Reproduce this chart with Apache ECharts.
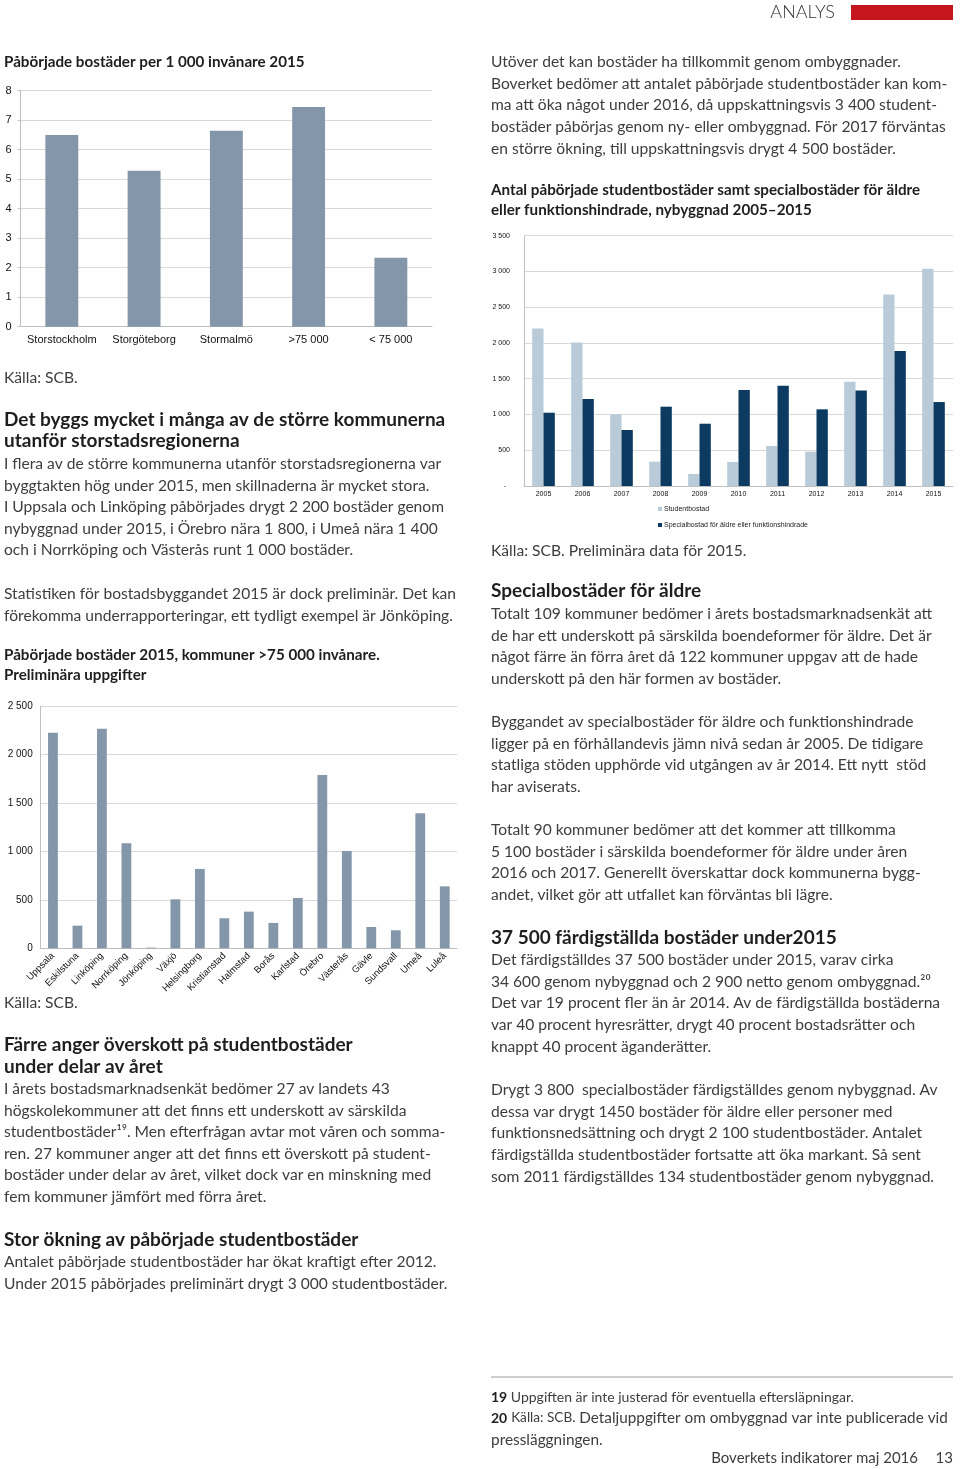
<!DOCTYPE html>
<html>
<head>
<meta charset="utf-8">
<script src="https://cdn.jsdelivr.net/npm/echarts@6/dist/echarts.min.js"></script>
<style>
html,body{margin:0;padding:0;background:#fff;}
#page{width:960px;height:1469px;}
</style>
</head>
<body>
<div id="page"></div>
<script>
// ---------- DATA ----------
const c1Categories = ['Storstockholm', 'Storgöteborg', 'Stormalmö', '>75 000', '< 75 000'];
const c1Values = [6.5, 5.29, 6.64, 7.45, 2.34];

const c2Years = ['2005', '2006', '2007', '2008', '2009', '2010', '2011', '2012', '2013', '2014', '2015'];
const c2Student = [2204, 2008, 1002, 340, 168, 336, 559, 480, 1459, 2679, 3038];
const c2Special = [1025, 1216, 783, 1109, 871, 1342, 1403, 1072, 1337, 1887, 1174];
const c2SeriesNames = ['Studentbostad', 'Specialbostad för äldre eller funktionshindrade'];

const c3Cities = ['Uppsala', 'Eskilstuna', 'Linköping', 'Norrköping', 'Jönköping', 'Växjö', 'Helsingborg',
  'Kristianstad', 'Halmstad', 'Borås', 'Karlstad', 'Örebro', 'Västerås', 'Gävle', 'Sundsvall', 'Umeå', 'Luleå'];
const c3Values = [2228, 234, 2269, 1085, 7, 506, 820, 310, 379, 262, 520, 1791, 1006, 220, 186, 1395, 640];

// ---------- TEXT ----------
const BODY = 'Lato, "Open Sans", sans-serif';
const AX = '"Liberation Sans", Arial, sans-serif';
const blocks = [
  // left column
  {x: 4, y: 62, lh: 20, kind: 'ctitle', lines: ['Påbörjade bostäder per 1 000 invånare 2015']},
  {x: 4, y: 378, lh: 21.6, kind: 'body', lines: ['Källa: SCB.']},
  {x: 4, y: 420, lh: 21, kind: 'head', lines: ['Det byggs mycket i många av de större kommunerna', 'utanför storstadsregionerna']},
  {x: 4, y: 464, lh: 21.6, kind: 'body', lines: [
    'I flera av de större kommunerna utanför storstadsregionerna var',
    'byggtakten hög under 2015, men skillnaderna är mycket stora.',
    'I Uppsala och Linköping påbörjades drygt 2 200 bostäder genom',
    'nybyggnad under 2015, i Örebro nära 1 800, i Umeå nära 1 400',
    'och i Norrköping och Västerås runt 1 000 bostäder.']},
  {x: 4, y: 594, lh: 21.6, kind: 'body', lines: [
    'Statistiken för bostadsbyggandet 2015 är dock preliminär. Det kan',
    'förekomma underrapporteringar, ett tydligt exempel är Jönköping.']},
  {x: 4, y: 655, lh: 20, kind: 'ctitle', lines: ['Påbörjade bostäder 2015, kommuner >75 000 invånare.', 'Preliminära uppgifter']},
  {x: 4, y: 1003, lh: 21.6, kind: 'body', lines: ['Källa: SCB.']},
  {x: 4, y: 1045, lh: 21.6, kind: 'head', lines: ['Färre anger överskott på studentbostäder', 'under delar av året']},
  {x: 4, y: 1089, lh: 21.6, kind: 'body', lines: [
    'I årets bostadsmarknadsenkät bedömer 27 av landets 43',
    'högskolekommuner att det finns ett underskott av särskilda',
    'studentbostäder¹⁹. Men efterfrågan avtar mot våren och somma-',
    'ren. 27 kommuner anger att det finns ett överskott på student-',
    'bostäder under delar av året, vilket dock var en minskning med',
    'fem kommuner jämfört med förra året.']},
  {x: 4, y: 1240, lh: 21.6, kind: 'head', lines: ['Stor ökning av påbörjade studentbostäder']},
  {x: 4, y: 1262, lh: 21.6, kind: 'body', lines: [
    'Antalet påbörjade studentbostäder har ökat kraftigt efter 2012.',
    'Under 2015 påbörjades preliminärt drygt 3 000 studentbostäder.']},
  // right column
  {x: 491, y: 62, lh: 21.7, kind: 'body', lines: [
    'Utöver det kan bostäder ha tillkommit genom ombyggnader.',
    'Boverket bedömer att antalet påbörjade studentbostäder kan kom-',
    'ma att öka något under 2016, då uppskattningsvis 3 400 student-',
    'bostäder påbörjas genom ny- eller ombyggnad. För 2017 förväntas',
    'en större ökning, till uppskattningsvis drygt 4 500 bostäder.']},
  {x: 491, y: 190, lh: 20, kind: 'ctitle', lines: ['Antal påbörjade studentbostäder samt specialbostäder för äldre', 'eller funktionshindrade, nybyggnad 2005–2015']},
  {x: 491, y: 551, lh: 21.6, kind: 'body', lines: ['Källa: SCB. Preliminära data för 2015.']},
  {x: 491, y: 591, lh: 21.6, kind: 'head', lines: ['Specialbostäder för äldre']},
  {x: 491, y: 614, lh: 21.7, kind: 'body', lines: [
    'Totalt 109 kommuner bedömer i årets bostadsmarknadsenkät att',
    'de har ett underskott på särskilda boendeformer för äldre. Det är',
    'något färre än förra året då 122 kommuner uppgav att de hade',
    'underskott på den här formen av bostäder.']},
  {x: 491, y: 722, lh: 21.7, kind: 'body', lines: [
    'Byggandet av specialbostäder för äldre och funktionshindrade',
    'ligger på en förhållandevis jämn nivå sedan år 2005. De tidigare',
    'statliga stöden upphörde vid utgången av år 2014. Ett nytt  stöd',
    'har aviserats.']},
  {x: 491, y: 830, lh: 21.7, kind: 'body', lines: [
    'Totalt 90 kommuner bedömer att det kommer att tillkomma',
    '5 100 bostäder i särskilda boendeformer för äldre under åren',
    '2016 och 2017. Generellt överskattar dock kommunerna bygg-',
    'andet, vilket gör att utfallet kan förväntas bli lägre.']},
  {x: 491, y: 938, lh: 21.6, kind: 'head', lines: ['37 500 färdigställda bostäder under2015']},
  {x: 491, y: 960, lh: 21.7, kind: 'body', lines: [
    'Det färdigställdes 37 500 bostäder under 2015, varav cirka',
    '34 600 genom nybyggnad och 2 900 netto genom ombyggnad.²⁰',
    'Det var 19 procent fler än år 2014. Av de färdigställda bostäderna',
    'var 40 procent hyresrätter, drygt 40 procent bostadsrätter och',
    'knappt 40 procent äganderätter.']},
  {x: 491, y: 1090, lh: 21.7, kind: 'body', lines: [
    'Drygt 3 800  specialbostäder färdigställdes genom nybyggnad. Av',
    'dessa var drygt 1450 bostäder för äldre eller personer med',
    'funktionsnedsättning och drygt 2 100 studentbostäder. Antalet',
    'färdigställda studentbostäder fortsatte att öka markant. Så sent',
    'som 2011 färdigställdes 134 studentbostäder genom nybyggnad.']}
];
const styles = {
  body: {fontSize: 15.6, fontWeight: 400, fill: '#3d3d3d'},
  head: {fontSize: 19, fontWeight: 'bold', fill: '#1e1e1e'},
  ctitle: {fontSize: 15.2, fontWeight: 'bold', fill: '#1e1e1e'}
};

const graphics = [];
blocks.forEach(b => {
  b.lines.forEach((t, i) => {
    graphics.push({type: 'text', x: b.x, y: b.y + i * b.lh, silent: true,
      style: Object.assign({text: t, fontFamily: BODY, verticalAlign: 'middle', align: 'left'}, styles[b.kind])});
  });
});
// header
graphics.push({type: 'text', x: 835, y: 12, silent: true,
  style: {text: 'ANALYS', fontFamily: BODY, fontSize: 18, fontWeight: 300, fill: '#333', align: 'right', verticalAlign: 'middle'}});
graphics.push({type: 'rect', shape: {x: 851, y: 5, width: 102, height: 15}, style: {fill: '#c4161c'}, silent: true});
// footnotes
graphics.push({type: 'line', shape: {x1: 491, y1: 1377, x2: 953, y2: 1377}, style: {stroke: '#9a9a9a', lineWidth: 1}, silent: true});
graphics.push({type: 'text', x: 491, y: 1397, silent: true, style: {
  text: '{b|19} Uppgiften är inte justerad för eventuella eftersläpningar.',
  fontFamily: BODY, fontSize: 14, fill: '#3d3d3d', verticalAlign: 'middle',
  rich: {b: {fontWeight: 'bold', fontFamily: BODY, fontSize: 14, fill: '#1e1e1e'}}}});
graphics.push({type: 'text', x: 491, y: 1418, silent: true, style: {
  text: '{b|20} {s|Källa: SCB.} Detaljuppgifter om ombyggnad var inte publicerade vid',
  fontFamily: BODY, fontSize: 15.3, fill: '#3d3d3d', verticalAlign: 'middle',
  rich: {b: {fontWeight: 'bold', fontFamily: BODY, fontSize: 14, fill: '#1e1e1e'}, s: {fontFamily: BODY, fontSize: 13.6, fill: '#3d3d3d'}}}});
graphics.push({type: 'text', x: 491, y: 1440, silent: true, style: {
  text: 'pressläggningen.', fontFamily: BODY, fontSize: 15.4, fill: '#3d3d3d', verticalAlign: 'middle'}});
graphics.push({type: 'text', x: 918, y: 1458, silent: true, style: {
  text: 'Boverkets indikatorer maj 2016', fontFamily: BODY, fontSize: 15, fill: '#3d3d3d', align: 'right', verticalAlign: 'middle'}});
graphics.push({type: 'text', x: 953, y: 1458, silent: true, style: {
  text: '13', fontFamily: BODY, fontSize: 15, fill: '#3d3d3d', align: 'right', verticalAlign: 'middle'}});

// ---------- CHART ----------
const fmtThousands = v => String(v).replace(/\B(?=(\d{3})+(?!\d))/g, ' ');
const axisGray = '#bfbfbf';
const gridGray = '#d9d9d9';

const chart = echarts.init(document.getElementById('page'), null, {renderer: 'canvas', width: 960, height: 1469});
chart.setOption({
  animation: false,
  backgroundColor: '#fff',
  graphic: graphics,
  grid: [
    {left: 20.7, top: 90.7, width: 411.3, height: 236, containLabel: false, outerBoundsMode: 'none'},
    {left: 524, top: 235.7, width: 429, height: 250.3, containLabel: false, outerBoundsMode: 'none'},
    {left: 40.7, top: 706.3, width: 416.3, height: 242, containLabel: false, outerBoundsMode: 'none'}
  ],
  legend: [{
    orient: 'vertical', left: 653, top: 500, itemWidth: 4, itemHeight: 4, itemGap: 8,
    icon: 'rect', data: c2SeriesNames,
    textStyle: {fontFamily: AX, fontSize: 7, color: '#222', lineHeight: 8, padding: [0, 0, 0, -3]}
  }],
  xAxis: [
    {gridIndex: 0, type: 'category', data: c1Categories,
      axisLine: {lineStyle: {color: axisGray}}, axisTick: {length: 3, lineStyle: {color: axisGray}},
      axisLabel: {fontFamily: AX, fontSize: 11, color: '#111', margin: 8, interval: 0}},
    {gridIndex: 1, type: 'category', data: c2Years,
      axisLine: {lineStyle: {color: axisGray}}, axisTick: {length: 2, lineStyle: {color: axisGray}},
      axisLabel: {fontFamily: AX, fontSize: 7, color: '#111', margin: 5, interval: 0}},
    {gridIndex: 2, type: 'category', data: c3Cities,
      axisLine: {lineStyle: {color: axisGray}}, axisTick: {length: 3, lineStyle: {color: axisGray}},
      axisLabel: {fontFamily: AX, fontSize: 9.5, color: '#111', rotate: 45, margin: 6, interval: 0}}
  ],
  yAxis: [
    {gridIndex: 0, type: 'value', min: 0, max: 8, interval: 1,
      axisLine: {show: true, lineStyle: {color: axisGray}}, axisTick: {show: true, length: 3, lineStyle: {color: axisGray}},
      splitLine: {lineStyle: {color: gridGray}},
      axisLabel: {fontFamily: AX, fontSize: 11, color: '#111', margin: 9}},
    {gridIndex: 1, type: 'value', min: 0, max: 3500, interval: 500,
      axisLine: {show: true, lineStyle: {color: axisGray}}, axisTick: {show: false},
      splitLine: {lineStyle: {color: gridGray}},
      axisLabel: {fontFamily: AX, fontSize: 7, color: '#111', margin: 14,
        formatter: v => v === 0 ? '-  ' : fmtThousands(v)}},
    {gridIndex: 2, type: 'value', min: 0, max: 2500, interval: 500,
      axisLine: {show: true, lineStyle: {color: axisGray}}, axisTick: {show: false},
      splitLine: {lineStyle: {color: gridGray}},
      axisLabel: {fontFamily: AX, fontSize: 10, color: '#111', margin: 8, formatter: v => fmtThousands(v)}}
  ],
  series: [
    {type: 'bar', xAxisIndex: 0, yAxisIndex: 0, data: c1Values, barWidth: '40%',
      itemStyle: {color: '#8497aa'}},
    {type: 'bar', name: c2SeriesNames[0], xAxisIndex: 1, yAxisIndex: 1, data: c2Student, barWidth: '29%', barGap: '0%',
      itemStyle: {color: '#b9cbd8'}},
    {type: 'bar', name: c2SeriesNames[1], xAxisIndex: 1, yAxisIndex: 1, data: c2Special, barWidth: '29%', barGap: '0%',
      itemStyle: {color: '#0c3a60'}},
    {type: 'bar', xAxisIndex: 2, yAxisIndex: 2, data: c3Values, barWidth: '40%',
      itemStyle: {color: '#8497aa'}}
  ]
});
</script>
</body>
</html>
